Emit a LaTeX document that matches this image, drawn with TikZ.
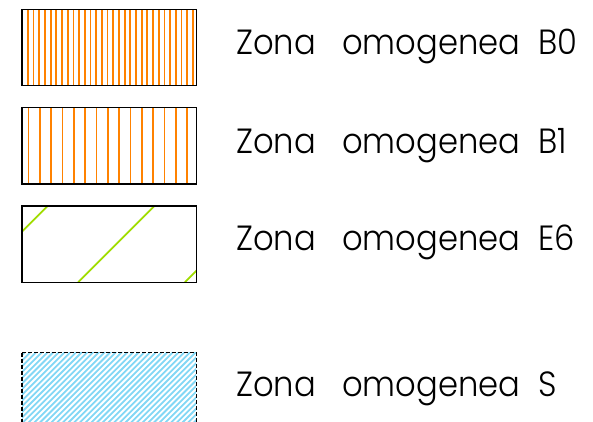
\documentclass[tikz,border=0pt]{standalone}
\usepackage{fontspec}
\setmainfont{Poppins Light}
\definecolor{hatchorange}{RGB}{255,130,0}
\definecolor{hatchgreen}{RGB}{160,220,0}
\definecolor{hatchblue}{RGB}{130,215,245}
\newcommand{\legword}[1]{\scalebox{0.92}[1]{#1}}
\tikzset{
  legbox/.style={draw=none, minimum width=174pt, minimum height=76pt, inner sep=0pt, anchor=north west},
  frame/.style={draw=black, line width=1.4pt},
  hatch/.style={line width=1.8pt},
  word/.style={anchor=base west, inner sep=0pt, font=\fontsize{35}{40}\selectfont, text=black},
}
\begin{document}
\begin{tikzpicture}[x=1pt,y=-1pt]
\useasboundingbox (0,0) rectangle (593,421);
% B0
\node[legbox, path picture={
  \foreach \i in {0,...,30}
    \draw[hatch, hatchorange] ([xshift=\i*5.69pt]path picture bounding box.south west) -- ++(0pt,76pt);
}] (b0) at (22,9.3) {};
\draw[frame] (b0.north west) rectangle (b0.south east);
% B1
\node[legbox, path picture={
  \foreach \i in {0,...,14}
    \draw[hatch, hatchorange] ([xshift=6.3pt+\i*11.33pt]path picture bounding box.south west) -- ++(0pt,76pt);
}] (b1) at (22,107.7) {};
\draw[frame] (b1.north west) rectangle (b1.south east);
% E6
\node[legbox, path picture={
  \foreach \i in {0,1,2}
    \draw[hatch, hatchgreen] ([xshift=-50.7pt+\i*106.7pt]path picture bounding box.south west) -- ++(80pt,80pt);
}] (e6) at (22,206) {};
\draw[frame] (e6.north west) rectangle (e6.south east);
% S
\node[legbox, path picture={
  \foreach \i in {-14,...,31}
    \draw[hatch, hatchblue] ([xshift=\i*5.7pt]path picture bounding box.south west) -- ++(80pt,80pt);
}] (s) at (22,352.7) {};
\draw[black, line width=1.2pt, dash pattern=on 4pt off 2pt] (s.north west) rectangle (s.south east);
% texts
\node[word] (z0) at (236,54.3) {\legword{Zona}};
\node[word] (o0) at (342,54.3) {\legword{omogenea}};
\node[word] (c0) at (538,54.3) {\legword{B0}};
\node[word] (z1) at (236,153.3) {\legword{Zona}};
\node[word] (o1) at (342,153.3) {\legword{omogenea}};
\node[word] (c1) at (538,153.3) {\legword{B1}};
\node[word] (z2) at (236,250) {\legword{Zona}};
\node[word] (o2) at (342,250) {\legword{omogenea}};
\node[word] (c2) at (538,250) {\legword{E6}};
\node[word] (z3) at (236,396.7) {\legword{Zona}};
\node[word] (o3) at (342,396.7) {\legword{omogenea}};
\node[word] (c3) at (538,396.7) {\legword{S}};
\end{tikzpicture}
\end{document}
